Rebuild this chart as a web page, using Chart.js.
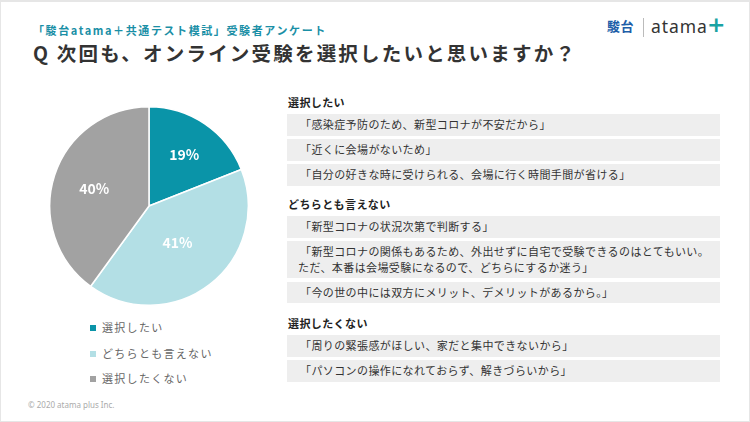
<!DOCTYPE html>
<html>
<head>
<meta charset="utf-8">
<script src="https://cdn.jsdelivr.net/npm/chart.js@4"></script>
<style>
  html, body { margin: 0; padding: 0; background: #fff; }
  body { width: 750px; height: 422px; position: relative; overflow: hidden;
         font-family: "Noto Sans CJK JP", "Noto Sans", sans-serif; color: #333; }
  #frame { position: absolute; left: 0; top: 0; width: 750px; height: 422px; box-sizing: border-box;
           border: 1px solid #e6e6e6; border-top-width: 2px; }
  #sub { position: absolute; left: 33px; top: 21px; font-size: 11px; font-weight: bold; color: #1a8fa6;
         letter-spacing: 1.6px; line-height: 18px; white-space: nowrap; }
  #title { position: absolute; left: 33px; top: 40px; font-size: 19.5px; font-weight: bold; color: #333;
           letter-spacing: 2.2px; line-height: 26px; white-space: nowrap; }
  #logo { position: absolute; left: 607px; top: 14px; height: 26px; white-space: nowrap; }
  #logo .sd { position: absolute; left: 0; top: 3px; font-size: 13px; font-weight: bold; color: #1d5ea8; line-height: 18px; letter-spacing: 0.5px; }
  #logo .bar { position: absolute; left: 36px; top: 4px; width: 1px; height: 19px; background: #bbb; }
  #logo .at { position: absolute; left: 44px; top: 0; font-size: 17.5px; color: #333; line-height: 24px; letter-spacing: 0.9px; font-family: "Noto Sans", sans-serif; }
  #logo .pl { position: absolute; left: 100px; top: -2px; font-size: 22px; font-weight: bold; color: #1aa3a3; line-height: 26px; font-family: "DejaVu Sans", sans-serif; }
  #pie { position: absolute; left: 49px; top: 106px; width: 200px; height: 200px; }
  #legend { position: absolute; left: 90px; top: 318px; }
  .li { height: 25.5px; line-height: 18px; font-size: 11px; color: #666; letter-spacing: 1.3px; white-space: nowrap; }
  .li span.m { display: inline-block; width: 6px; height: 6px; margin-right: 6px; vertical-align: 1px; }
  .sec { position: absolute; left: 287px; width: 433px; }
  .sec h3 { margin: 0 0 4px 1px; font-size: 11px; font-weight: bold; line-height: 16px; color: #222; letter-spacing: 0.4px; }
  .box { background: #eeeeee; margin-bottom: 3.5px; padding: 3px 0 3px 13px; font-size: 11px; line-height: 15.5px;
         color: #333; letter-spacing: 0.4px; white-space: nowrap; }
  #foot { position: absolute; left: 28px; top: 399px; font-size: 8px; color: #aaa; line-height: 12px; font-family: "Noto Sans", sans-serif; }
</style>
</head>
<body>
<div id="frame"></div>
<div id="sub">「駿台atama＋共通テスト模試」受験者アンケート</div>
<div id="title">Q 次回も、オンライン受験を選択したいと思いますか？</div>
<div id="logo"><span class="sd">駿台</span><span class="bar"></span><span class="at">atama</span><span class="pl">+</span></div>
<canvas id="pie" width="200" height="200"></canvas>
<div id="legend"></div>
<div id="comments"></div>
<div id="foot">© 2020 atama plus Inc.</div>
<script>
const categories = ["選択したい", "どちらとも言えない", "選択したくない"];
const shares = [19, 41, 40];
const sliceColors = ["#0a94a8", "#b3dfe5", "#a2a2a2"];
const labelRadius = [0.63, 0.47, 0.58];

const comments1 = ["「感染症予防のため、新型コロナが不安だから」", "「近くに会場がないため」", "「自分の好きな時に受けられる、会場に行く時間手間が省ける」"];
const comments2 = ["「新型コロナの状況次第で判断する」", "「新型コロナの関係もあるため、外出せずに自宅で受験できるのはとてもいい。\nただ、本番は会場受験になるので、どちらにするか迷う」", "「今の世の中には双方にメリット、デメリットがあるから。」"];
const comments3 = ["「周りの緊張感がほしい、家だと集中できないから」", "「パソコンの操作になれておらず、解きづらいから」"];
const sectionTops = [94, 196, 315];

// percent labels inside the slices
const pctLabels = {
  id: 'pctLabels',
  afterDatasetsDraw(chart) {
    const ctx = chart.ctx;
    const meta = chart.getDatasetMeta(0);
    ctx.save();
    ctx.fillStyle = '#fff';
    ctx.font = 'bold 14px "Noto Sans CJK JP"';
    ctx.textAlign = 'center';
    ctx.textBaseline = 'middle';
    meta.data.forEach((arc, i) => {
      const p = arc.getProps(['x', 'y', 'startAngle', 'endAngle', 'outerRadius']);
      const a = (p.startAngle + p.endAngle) / 2;
      const r = p.outerRadius * labelRadius[i];
      ctx.fillText(shares[i] + '%', p.x + Math.cos(a) * r, p.y + Math.sin(a) * r);
    });
    ctx.restore();
  }
};

new Chart(document.getElementById('pie'), {
  type: 'pie',
  data: {
    labels: categories,
    datasets: [{
      data: shares,
      backgroundColor: sliceColors,
      borderColor: '#fff',
      borderWidth: 1.5,
      hoverOffset: 0
    }]
  },
  options: {
    responsive: false,
    animation: false,
    layout: { padding: 0 },
    plugins: { legend: { display: false }, tooltip: { enabled: false } }
  },
  plugins: [pctLabels]
});

const legend = document.getElementById('legend');
categories.forEach((c, i) => {
  const d = document.createElement('div');
  d.className = 'li';
  d.innerHTML = '<span class="m" style="background:' + sliceColors[i] + '"></span>' + c;
  legend.appendChild(d);
});

const holder = document.getElementById('comments');
[comments1, comments2, comments3].forEach((list, i) => {
  const s = document.createElement('div');
  s.className = 'sec';
  s.style.top = sectionTops[i] + 'px';
  const h = document.createElement('h3');
  h.textContent = categories[i];
  s.appendChild(h);
  list.forEach(t => {
    const b = document.createElement('div');
    b.className = 'box';
    b.innerHTML = t.split('\n').map((x, k) => k ? '<span style="margin-left:-2px">' + x + '</span>' : x).join('<br>');
    s.appendChild(b);
  });
  holder.appendChild(s);
});
</script>
</body>
</html>
